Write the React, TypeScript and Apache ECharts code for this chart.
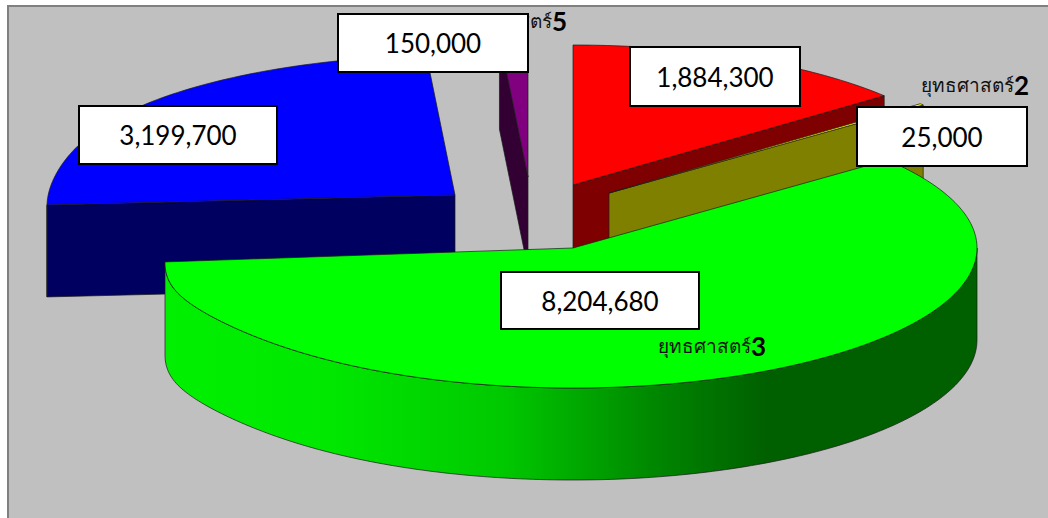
import React, { useEffect, useRef } from "react";
import * as echarts from "echarts";

// Data (clockwise from 12 o'clock, as in the reference)
const sliceNames = ["ยุทธศาสตร์1", "ยุทธศาสตร์2", "ยุทธศาสตร์3", "ยุทธศาสตร์4", "ยุทธศาสตร์5"];
const sliceValues = [1884300, 25000, 8204680, 3199700, 150000];

// Styles and layout, separate from the data
const topColors = ["#ff0000", "#ffff00", "#00ff00", "#0000ff", "#800080"];
const wallColors = ["#7f0000", "#808000", "#006000", "#000060", "#330033"];
const apexes = [[573, 185], [609, 193], [573, 248], [455, 195], [528, 177]];
const leftDrops = [0, 0, 15, 11, 0];
const drawRank = [3, 4, 5, 1, 2];
const boxes = [[630, 47, 170, 59], [857, 107, 170, 59], [501, 272, 198, 57], [79, 106, 198, 58], [338, 14, 190, 58]];
const nameSpots: (number[] | null)[] = [null, [1029, 85], [766, 346], null, [567, 21]];

const RX_R = 404, RX_L = 408, RY = 140, DEPTH = 92;
const total = sliceValues.reduce((a, b) => a + b, 0);
const EDGE = "#1a1a1a";

function pt(deg: number, apex: number[], drop: number, dy = 0): number[] {
  const r = (deg * Math.PI) / 180;
  const s = Math.sin(r);
  const x = apex[0] + (s < 0 ? RX_L : RX_R) * s;
  let y = apex[1] - RY * Math.cos(r) + dy;
  if (s < 0) y += drop * Math.pow(-s, 12);
  return [x, y];
}
function arc(a: number, b: number, apex: number[], drop: number, dy = 0): number[][] {
  const out: number[][] = [];
  const n = Math.max(2, Math.ceil(Math.abs(b - a)));
  for (let i = 0; i <= n; i++) out.push(pt(a + ((b - a) * i) / n, apex, drop, dy));
  return out;
}

const sideGradient = new echarts.graphic.LinearGradient(
  164, 0, 977, 0,
  [
    { offset: 0, color: "#00f000" },
    { offset: 0.2, color: "#00e800" },
    { offset: 0.42, color: "#00c800" },
    { offset: 0.6, color: "#008800" },
    { offset: 0.74, color: "#006000" },
    { offset: 1, color: "#006000" },
  ],
  true
);

function renderSlice(params: any) {
  const i = params.dataIndex;
  const before = sliceValues.slice(0, i).reduce((a, b) => a + b, 0);
  const a0 = (before / total) * 360;
  const a1 = ((before + sliceValues[i]) / total) * 360;
  const apex = apexes[i];
  const drop = leftDrops[i];
  const z = drawRank[i] * 10;
  const children: any[] = [];
  const poly = (points: number[][], fill: any, zz: number) =>
    children.push({
      type: "polygon",
      z2: zz,
      shape: { points },
      style: { fill, stroke: EDGE, lineWidth: 0.7 },
    });

  const cut = (deg: number) => {
    const o = pt(deg, apex, drop);
    poly([[apex[0], apex[1]], o, [o[0], o[1] + DEPTH], [apex[0], apex[1] + DEPTH]], wallColors[i], z);
  };
  if (a0 > 180) cut(a0);
  if (a1 < 180) cut(a1);

  const w0 = Math.max(a0, 90), w1 = Math.min(a1, 270.5);
  if (w1 > w0) {
    const top = arc(w0, w1, apex, drop);
    const bottom = arc(w1, w0, apex, drop, DEPTH);
    poly(top.concat(bottom), i === 2 ? sideGradient : wallColors[i], z + 1);
  }
  poly([[apex[0], apex[1]], ...arc(a0, a1, apex, drop)], topColors[i], z + 2);

  const b = boxes[i];
  children.push({
    type: "rect",
    z2: 200,
    shape: { x: b[0], y: b[1], width: b[2], height: b[3] },
    style: { fill: "#ffffff", stroke: "#000000", lineWidth: 2 },
  });
  children.push({
    type: "text",
    z2: 201,
    style: {
      x: b[0] + b[2] / 2,
      y: b[1] + b[3] / 2,
      text: sliceValues[i].toLocaleString("en-US"),
      align: "center",
      verticalAlign: "middle",
      fontFamily: "Lato",
      fontSize: 26,
      fill: "#000000",
    },
  });
  const spot = nameSpots[i];
  if (spot) {
    const name = sliceNames[i];
    children.push({
      type: "text",
      z2: 150,
      style: {
        x: spot[0],
        y: spot[1],
        text: `{t|${name.slice(0, -1)}}{d|${name.slice(-1)}}`,
        align: "right",
        verticalAlign: "middle",
        rich: {
          t: { fontFamily: "Noto Sans", fontSize: 19, fill: "#111111" },
          d: { fontFamily: "Lato", fontWeight: "bold", fontSize: 26, fill: "#000000" },
        },
      },
    });
  }
  return { type: "group", children };
}

export default function App() {
  const ref = useRef<HTMLDivElement>(null);
  useEffect(() => {
    const chart = echarts.init(ref.current!, undefined, { renderer: "svg" });
    chart.setOption({
      animation: false,
      backgroundColor: "#ffffff",
      graphic: [
        {
          type: "rect",
          z: -1,
          shape: { x: 8, y: 6, width: 1042, height: 514 },
          style: { fill: "#c0c0c0", stroke: "#808080", lineWidth: 2 },
        },
      ],
      series: [
        {
          type: "custom",
          coordinateSystem: "none",
          renderItem: renderSlice,
          data: sliceValues.map((value, k) => ({ name: sliceNames[k], value })),
          silent: true,
        },
      ],
    });
    return () => chart.dispose();
  }, []);
  return <div ref={ref} style={{ position: "fixed", left: 0, top: 0, width: 1048, height: 518 }} />;
}
